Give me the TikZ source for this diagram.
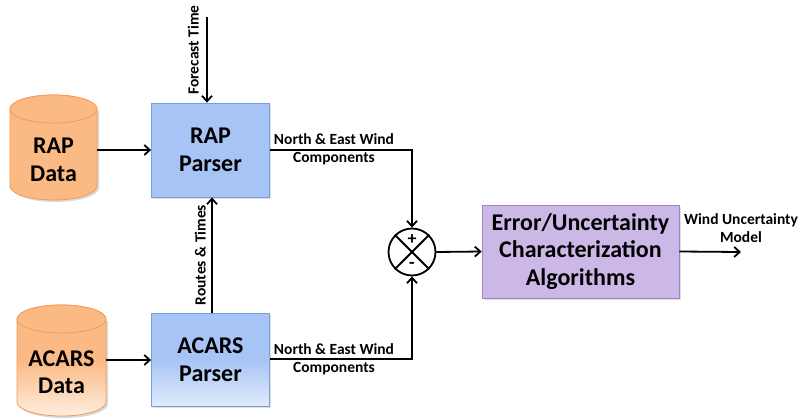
\documentclass[tikz,border=0pt]{standalone}
\usepackage{fontspec}
\setmainfont{Carlito}
\usetikzlibrary{arrows.meta,calc,shadows}
\definecolor{orfill}{HTML}{FBBA84}
\definecolor{orline}{HTML}{F59A52}
\definecolor{blfill}{HTML}{A7C4F6}
\definecolor{blline}{HTML}{7C9ED8}
\definecolor{pufill}{HTML}{CBB8E7}
\definecolor{puline}{HTML}{9B84C4}
\tikzset{
  conn/.style={line width=1.8pt, -{Straight Barb[length=5.5pt,width=10pt,line width=1.8pt]}},
  procbox/.style={draw=blline, line width=0.8pt, fill=blfill, font=\bfseries\fontsize{24}{28}\selectfont, align=center, inner sep=0pt,
    drop shadow={shadow xshift=1.5pt, shadow yshift=-1.5pt, opacity=0.25}},
  algbox/.style={draw=puline, line width=0.8pt, fill=pufill, font=\bfseries\fontsize{24}{27.5}\selectfont, align=center, inner sep=0pt,
    drop shadow={shadow xshift=1.5pt, shadow yshift=-1.5pt, opacity=0.25}},
  dbtext/.style={font=\bfseries\fontsize{24}{27.5}\selectfont, align=center, inner sep=0pt},
  lbl/.style={font=\bfseries\fontsize{15.5}{18}\selectfont, align=center, inner sep=0pt},
}
\newcommand{\dbcyl}[6]{% cx, ytop, ybot, rx, ry, fill spec
  \fill[black,opacity=0.15] (#1-#4+2,#2+#5+2) -- (#1-#4+2,#3-#5+2) arc[start angle=180,end angle=360,x radius=#4,y radius=-#5] -- (#1+#4+2,#2+#5+2) -- cycle;
  \path[#6, draw=orline, line width=0.8pt] (#1-#4,#2+#5) -- (#1-#4,#3-#5) arc[start angle=180,end angle=360,x radius=#4,y radius=-#5] -- (#1+#4,#2+#5) arc[start angle=0,end angle=180,x radius=#4,y radius=-#5] -- cycle;
  \path[fill=orfill, draw=orline, line width=0.8pt] (#1,#2+#5) ellipse[x radius=#4, y radius=#5];
}
\begin{document}
\begin{tikzpicture}[x=1pt,y=-1pt]
\useasboundingbox (0,0) rectangle (801,418);
% cylinders
\dbcyl{53.5}{95}{200}{43.5}{14}{fill=orfill}
\dbcyl{61.5}{305}{416}{44.5}{14}{top color=orfill, bottom color=orfill!25!white, middle color=orfill}
\node[dbtext, minimum width=87pt, minimum height=105pt] (rapdata) at (53.5,150) {};
\node[dbtext] (rapdatatext) at (53.5,160) {RAP\\Data};
\node[dbtext, minimum width=89pt, minimum height=110pt] (acarsdata) at (61.5,362) {};
\node[dbtext] (acarsdatatext) at (61.5,372) {ACARS\\Data};

% parsers
\node[procbox, minimum width=118pt, minimum height=94pt] (rapparser) at (210.5,150) {RAP\\Parser};
\node[procbox, minimum width=118pt, minimum height=93pt, top color=blfill, bottom color=blfill!35!white, middle color=blfill] (acarsparser) at (210.5,359.5) {ACARS\\Parser};

% sum junction
\node[circle, draw, line width=1.8pt, minimum size=47pt, inner sep=0pt, fill=white] (sum) at (412,252) {};
\draw[line width=1.8pt] (sum.north west) -- (sum.south east);
\draw[line width=1.8pt] (sum.north east) -- (sum.south west);
\node[font=\bfseries\fontsize{18}{18}\selectfont, inner sep=0pt] (plus) at (412,240) {+};
\node[font=\bfseries\fontsize{18}{18}\selectfont, inner sep=0pt] (minus) at (412,265) {-};

% algorithm box
\node[algbox, minimum width=197pt, minimum height=93pt] (alg) at (580.5,251.5) {Error/Uncertainty\\Characterization\\Algorithms};

% forecast time
\coordinate (ftstart) at (207,17);
\draw[conn] (ftstart) -- (rapparser.north -| ftstart);
\node[lbl, rotate=90, anchor=south] (ftlabel) at (199,50) {Forecast Time};

% data to parsers
\draw[conn] (rapdata.east) -- (rapparser.west |- rapdata.east);
\draw[conn] (acarsdata.east |- 0,360) -- (acarsparser.west |- 0,360);

% routes & times
\draw[conn] (acarsparser.north -| 212,0) -- (rapparser.south -| 212,0);
\node[lbl, rotate=90, anchor=south] (rtlabel) at (206,255) {Routes \& Times};

% wind components
\coordinate (c1) at (412,150);
\coordinate (c2) at (412,359);
\draw[conn] (rapparser.east) -- (c1) -- (sum.north);
\draw[conn] (acarsparser.east |- c2) -- (c2) -- (sum.south);
\node[lbl] (wc1) at (334,149) {North \& East Wind\\Components};
\node[lbl] (wc2) at (334,359) {North \& East Wind\\Components};

% to algorithm and output
\draw[conn] (sum.east) -- (alg.west);
\coordinate (outend) at (741,252);
\draw[conn] (alg.east) -- (outend);
\node[lbl] (outlabel) at (741,228) {Wind Uncertainty\\Model};
\end{tikzpicture}
\end{document}
